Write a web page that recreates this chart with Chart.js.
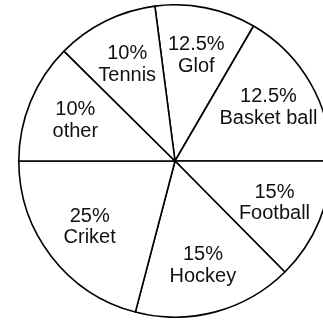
<!DOCTYPE html>
<html>
<head>
<meta charset="utf-8">
<script src="https://cdn.jsdelivr.net/npm/chart.js@4"></script>
<style>
  html, body { margin: 0; padding: 0; background: #fff; overflow: hidden; width: 323px; height: 320px; }
  #wrap { position: absolute; left: 18px; top: 4px; width: 314px; height: 314px; }
</style>
</head>
<body>
<div id="wrap"><canvas id="pie" width="314" height="314"></canvas></div>
<script>
// Slice order runs clockwise from just left of 12 o'clock
const sports   = ['Glof', 'Basket ball', 'Football', 'Hockey', 'Criket', 'other', 'Tennis'];
const percents = ['12.5%', '12.5%', '15%', '15%', '25%', '10%', '10%'];
// Slice sizes as drawn in the picture (degrees of arc)
const sliceDeg = [37.6, 59.8, 45.3, 59.4, 75.3, 44.7, 37.9];

// ── Labels inside the slices ──────────────────────────────────────
const sliceLabels = {
  id: 'sliceLabels',
  afterDatasetsDraw(chart) {
    const ctx = chart.ctx;
    const arcs = chart.getDatasetMeta(0).data;
    ctx.save();
    ctx.fillStyle = '#111';
    ctx.font = '20px "Liberation Sans", Arial, sans-serif';
    ctx.textAlign = 'center';
    ctx.textBaseline = 'middle';
    arcs.forEach((arc, i) => {
      const p = arc.getProps(['x', 'y', 'startAngle', 'endAngle', 'outerRadius'], true);
      const mid = (p.startAngle + p.endAngle) / 2;
      const r = p.outerRadius * 0.69;
      const cx = p.x + Math.cos(mid) * r;
      const cy = p.y + Math.sin(mid) * r;
      ctx.fillText(percents[i], cx, cy - 10.5);
      ctx.fillText(sports[i], cx, cy + 11);
    });
    ctx.restore();
  }
};

new Chart(document.getElementById('pie').getContext('2d'), {
  type: 'pie',
  data: {
    labels: sports,
    datasets: [{
      data: sliceDeg,
      backgroundColor: '#fff',
      borderColor: '#000',
      borderWidth: 1.6,
    }],
  },
  options: {
    responsive: false,
    animation: false,
    rotation: -7.4,
    layout: { padding: 0 },
    plugins: {
      legend: { display: false },
      tooltip: { enabled: false },
    },
  },
  plugins: [sliceLabels],
});
</script>
</body>
</html>
